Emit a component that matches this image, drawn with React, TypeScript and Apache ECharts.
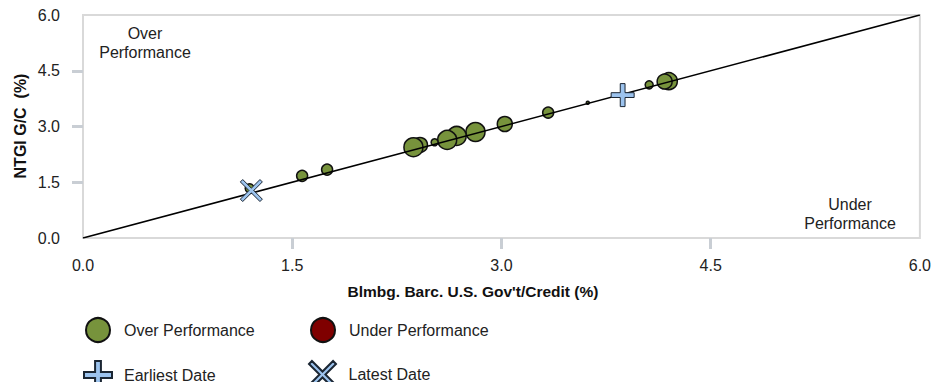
import React, { useEffect, useRef } from "react";
import * as echarts from "echarts";

// Blmbg. Barc. U.S. Gov't/Credit (%) vs NTGI G/C (%)
const overX = [4.2, 4.17, 4.059, 3.619, 3.335, 3.024, 2.814, 2.679, 2.611, 2.521, 2.416, 2.369, 1.75, 1.571, 1.195];
const overY = [4.22, 4.21, 4.121, 3.638, 3.375, 3.067, 2.852, 2.745, 2.638, 2.576, 2.503, 2.442, 1.84, 1.672, 1.34];
const overSize = [17, 15, 8, 3, 11, 15, 19, 19, 19, 7, 15, 19, 11, 11, 9];
const underX: number[] = [];
const underY: number[] = [];
const earliestPoint = [3.869, 3.845];
const latestPoint = [1.207, 1.277];
const diagonal = [
  [0, 0],
  [6, 6],
];
const axisMin = 0;
const axisMax = 6;
const axisStep = 1.5;
const tickMarks = [1.5, 3.0, 4.5];

const FONT = "'Liberation Sans', Arial, Helvetica, sans-serif";
const GREEN = "#77933c";
const RED = "#7f0000";
const BLUE = "#9cc3ee";
const OUTLINE = "#1b2633";

const plusPath = "path://M9.5,0 H14.5 V9.5 H24 V14.5 H14.5 V24 H9.5 V14.5 H0 V9.5 H9.5 Z";
const d = 2.6;
const xPath = `path://M0,${d} L${d},0 L12,${12 - d} L${24 - d},0 L24,${d} L${12 + d},12 L24,${24 - d} L${24 - d},24 L12,${12 + d} L${d},24 L0,${24 - d} L${12 - d},12 Z`;

export default function App() {
  const ref = useRef<HTMLDivElement>(null);
  useEffect(() => {
    if (!ref.current) return;
    const chart = echarts.init(ref.current, undefined, { renderer: "svg" });
    const labelStyle = { fontSize: 16, color: "#222", fontFamily: FONT };
    const legendBase = {
      orient: "horizontal",
      itemWidth: 42,
      itemHeight: 24,
      itemGap: 0,
      selectedMode: false,
      textStyle: { fontSize: 16, color: "#222", fontFamily: FONT },
      padding: 0,
    };
    const axisCommon = {
      type: "value",
      min: axisMin,
      max: axisMax,
      interval: axisStep,
      offset: 2,
      splitLine: { show: false },
      axisLine: { show: false },
      axisTick: {
        show: true,
        customValues: tickMarks,
        length: 11,
        lineStyle: { color: "#c9ced4", width: 3 },
      },
    };
    chart.setOption({
      animation: false,
      textStyle: { fontFamily: FONT },
      grid: {
        left: 83,
        top: 15,
        width: 840,
        height: 223,
        show: true,
        borderColor: "#d9d9d9",
        borderWidth: 2,
        backgroundColor: "transparent",
      },
      xAxis: {
        ...axisCommon,
        axisLabel: { ...labelStyle, margin: 17, formatter: (v: number) => v.toFixed(1) },
      },
      yAxis: {
        ...axisCommon,
        axisLabel: { ...labelStyle, margin: 21, formatter: (v: number) => v.toFixed(1) },
      },
      legend: [
        { ...legendBase, left: 85, top: 317, data: [{ name: "Over Performance", icon: "circle" }] },
        { ...legendBase, left: 310, top: 317, data: [{ name: "Under Performance", icon: "circle" }] },
        { ...legendBase, left: 83, top: 360, itemHeight: 28, data: [{ name: "Earliest Date", icon: plusPath }] },
        { ...legendBase, left: 308, top: 360, itemHeight: 27, data: [{ name: "Latest Date", icon: xPath }] },
      ],
      graphic: [
        {
          type: "text",
          x: 145,
          y: 42.5,
          style: {
            text: "Over\nPerformance",
            align: "center",
            verticalAlign: "middle",
            fontSize: 16,
            lineHeight: 19,
            fill: "#222",
            fontFamily: FONT,
          },
        },
        {
          type: "text",
          x: 850,
          y: 213.5,
          style: {
            text: "Under\nPerformance",
            align: "center",
            verticalAlign: "middle",
            fontSize: 16,
            lineHeight: 19,
            fill: "#222",
            fontFamily: FONT,
          },
        },
        {
          type: "text",
          x: 473,
          y: 291,
          style: {
            text: "Blmbg. Barc. U.S. Gov't/Credit (%)",
            align: "center",
            verticalAlign: "middle",
            fontSize: 15.5,
            fontWeight: "bold",
            fill: "#111",
            fontFamily: FONT,
          },
        },
        {
          type: "text",
          x: 20,
          y: 126,
          rotation: Math.PI / 2,
          style: {
            text: "NTGI G/C  (%)",
            align: "center",
            verticalAlign: "middle",
            fontSize: 16,
            fontWeight: "bold",
            fill: "#111",
            fontFamily: FONT,
          },
        },
      ],
      series: [
        {
          name: "Over Performance",
          type: "scatter",
          symbol: "circle",
          data: overX.map((x, i) => [x, overY[i], overSize[i]]),
          symbolSize: (v: number[]) => v[2],
          itemStyle: { color: GREEN, borderColor: "#111", borderWidth: 1.5, opacity: 1 },
          z: 2,
          silent: true,
        },
        {
          name: "Under Performance",
          type: "scatter",
          symbol: "circle",
          data: underX.map((x, i) => [x, underY[i]]),
          itemStyle: { color: RED, borderColor: "#111", borderWidth: 1.5, opacity: 1 },
          z: 2,
          silent: true,
        },
        {
          name: "diagonal",
          type: "line",
          data: diagonal,
          showSymbol: false,
          symbol: "none",
          lineStyle: { color: "#000", width: 1.6 },
          z: 3,
          silent: true,
        },
        {
          name: "Earliest Date",
          type: "scatter",
          symbol: plusPath,
          symbolSize: 23,
          data: [earliestPoint],
          itemStyle: { color: BLUE, borderColor: OUTLINE, borderWidth: 1, opacity: 1 },
          z: 4,
          silent: true,
        },
        {
          name: "Latest Date",
          type: "scatter",
          symbol: xPath,
          symbolSize: 22,
          data: [latestPoint],
          itemStyle: { color: BLUE, borderColor: OUTLINE, borderWidth: 1, opacity: 1 },
          z: 4,
          silent: true,
        },
      ],
    });
    return () => chart.dispose();
  }, []);
  return (
    <div
      ref={ref}
      style={{ position: "fixed", left: 0, top: 0, width: 934, height: 382, background: "#fff" }}
    />
  );
}
